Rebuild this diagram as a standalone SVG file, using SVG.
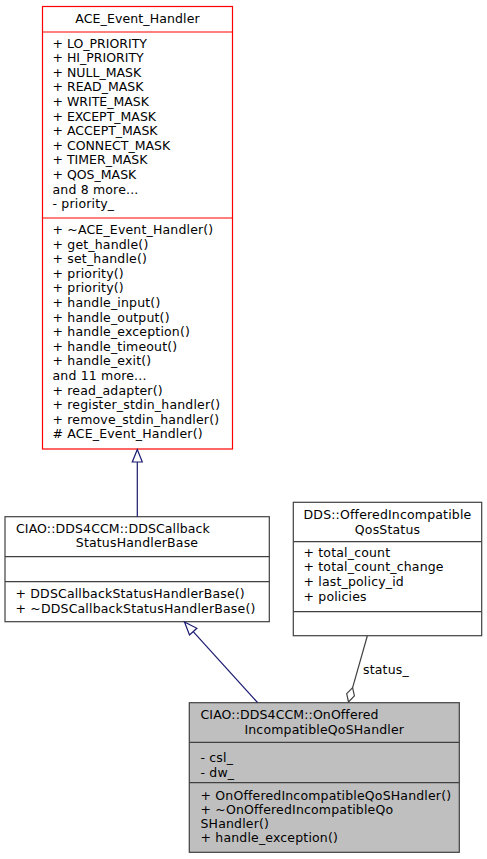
<svg xmlns="http://www.w3.org/2000/svg" width="487" height="859" viewBox="0 0 487 859">
<style>
text{font-family:"DejaVu Sans","Liberation Sans",sans-serif;font-size:12.5px;fill:#000;letter-spacing:0.17px}
text.c{letter-spacing:0}
text.t{letter-spacing:0.12px}
.box{fill:#fff;stroke:#404040;stroke-width:1.2}
.red{fill:#fff;stroke:#ff0000;stroke-width:1.2}
.sep{stroke:#404040;stroke-width:1.2}
.sepr{stroke:#ff0000;stroke-width:1.2}
.cur{fill:#bfbfbf;stroke:#404040;stroke-width:1.2}
.m{text-anchor:middle}
.inh{stroke:#191970;stroke-width:1.2;fill:none}
.agg{stroke:#404040;stroke-width:1.2;fill:none}
</style>
<rect width="487" height="859" fill="#fff"/>
<g id="ACE_Event_Handler">
<rect class="red" x="42.5" y="6.5" width="190" height="442.5"/>
<line class="sepr" x1="42.5" y1="32" x2="232.5" y2="32"/>
<line class="sepr" x1="42.5" y1="218" x2="232.5" y2="218"/>
<text class="m t" x="137.5" y="22.5">ACE_Event_Handler</text>
<text class="c" x="52.5" y="47.5">+ LO_PRIORITY</text>
<text class="c" x="52.5" y="62.1">+ HI_PRIORITY</text>
<text class="c" x="52.5" y="76.7">+ NULL_MASK</text>
<text class="c" x="52.5" y="91.3">+ READ_MASK</text>
<text class="c" x="52.5" y="105.9">+ WRITE_MASK</text>
<text class="c" x="52.5" y="120.5">+ EXCEPT_MASK</text>
<text class="c" x="52.5" y="135.1">+ ACCEPT_MASK</text>
<text class="c" x="52.5" y="149.7">+ CONNECT_MASK</text>
<text class="c" x="52.5" y="164.3">+ TIMER_MASK</text>
<text class="c" x="52.5" y="178.9">+ QOS_MASK</text>
<text x="52.5" y="193.5">and 8 more...</text>
<text x="52.5" y="208.1">- priority_</text>
<text x="52.5" y="234">+ ~ACE_Event_Handler()</text>
<text x="52.5" y="248.6">+ get_handle()</text>
<text x="52.5" y="263.2">+ set_handle()</text>
<text x="52.5" y="277.8">+ priority()</text>
<text x="52.5" y="292.4">+ priority()</text>
<text x="52.5" y="307">+ handle_input()</text>
<text x="52.5" y="321.6">+ handle_output()</text>
<text x="52.5" y="336.2">+ handle_exception()</text>
<text x="52.5" y="350.8">+ handle_timeout()</text>
<text x="52.5" y="365.4">+ handle_exit()</text>
<text x="52.5" y="380">and 11 more...</text>
<text x="52.5" y="394.6">+ read_adapter()</text>
<text x="52.5" y="409.2">+ register_stdin_handler()</text>
<text x="52.5" y="423.8">+ remove_stdin_handler()</text>
<text x="52.5" y="438.4"># ACE_Event_Handler()</text>
</g>
<g id="DDSCallbackStatusHandlerBase">
<rect class="box" x="5" y="516.7" width="264.3" height="105"/>
<line class="sep" x1="5" y1="556.7" x2="269.3" y2="556.7"/>
<line class="sep" x1="5" y1="581.7" x2="269.3" y2="581.7"/>
<text class="t" x="16" y="532.5">CIAO::DDS4CCM::DDSCallback</text>
<text class="m" x="137" y="547">StatusHandlerBase</text>
<text x="15.5" y="598">+ DDSCallbackStatusHandlerBase()</text>
<text x="15.5" y="612.6">+ ~DDSCallbackStatusHandlerBase()</text>
</g>
<g id="OfferedIncompatibleQosStatus">
<rect class="box" x="293.3" y="502.3" width="188.4" height="133.4"/>
<line class="sep" x1="293.3" y1="541.7" x2="481.7" y2="541.7"/>
<line class="sep" x1="293.3" y1="611.7" x2="481.7" y2="611.7"/>
<text class="m" x="387.5" y="519">DDS::OfferedIncompatible</text>
<text class="m" x="387.5" y="533.6">QosStatus</text>
<text x="303.5" y="556.7">+ total_count</text>
<text x="303.5" y="571.3">+ total_count_change</text>
<text x="303.5" y="585.9">+ last_policy_id</text>
<text x="303.5" y="600.5">+ policies</text>
</g>
<g id="OnOfferedIncompatibleQoSHandler">
<rect class="cur" x="189.3" y="702.7" width="270" height="149.6"/>
<line class="sep" x1="189.3" y1="742.3" x2="459.3" y2="742.3"/>
<line class="sep" x1="189.3" y1="782.7" x2="459.3" y2="782.7"/>
<text class="t" x="200.5" y="719">CIAO::DDS4CCM::OnOffered</text>
<text class="m" x="324.3" y="733.6">IncompatibleQoSHandler</text>
<text x="200.5" y="762">- csl_</text>
<text x="200.5" y="776.6">- dw_</text>
<text x="200.5" y="799.5">+ OnOfferedIncompatibleQoSHandler()</text>
<text x="200.5" y="813.8">+ ~OnOfferedIncompatibleQo</text>
<text x="200.5" y="828.1">SHandler()</text>
<text x="200.5" y="842.4">+ handle_exception()</text>
</g>
<g id="connectors">
<line class="inh" x1="137.3" y1="516.7" x2="137.3" y2="462"/>
<polygon class="inh" points="137.3,449.5 132.3,462 142.3,462"/>
<line class="inh" x1="257.5" y1="702.5" x2="193.2" y2="631.6"/>
<polygon class="inh" points="184.5,622 196.9,628.3 189.5,635"/>
<line class="agg" x1="367.3" y1="636" x2="352.6" y2="687.6"/>
<polygon class="agg" points="348.5,702 354.4,695.9 352.6,687.6 346.7,693.7"/>
<text x="363" y="674">status_</text>
</g>
</svg>
